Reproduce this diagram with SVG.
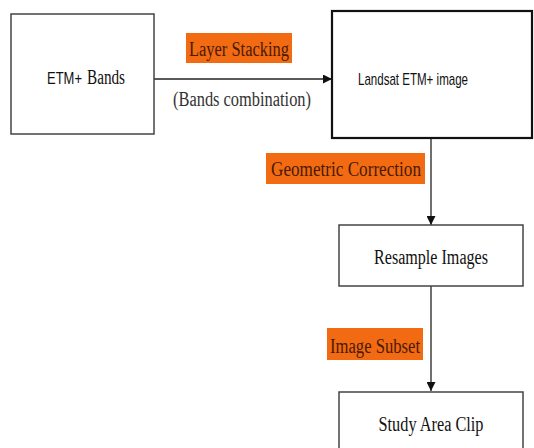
<svg xmlns="http://www.w3.org/2000/svg" width="534" height="448" viewBox="0 0 534 448">
<style>
.box{fill:#fff;stroke:#444;stroke-width:1.5}
.t{font-family:"Liberation Serif",serif;font-size:20px;fill:#111;text-anchor:middle}
.lbl{font-family:"Liberation Serif",serif;font-size:20px;fill:#4a1a05;text-anchor:middle}
.bg{fill:#f26a12}
.c{stroke:#222;stroke-width:1.3;fill:none}
.sans{font-family:"Liberation Sans",Arial,sans-serif;fill:#111}
</style>
<defs>
<marker id="ah" viewBox="0 0 10 10" refX="10" refY="5" markerWidth="10" markerHeight="9" markerUnits="userSpaceOnUse" orient="auto">
<path d="M0,0 L10,5 L0,10 z" fill="#111"/>
</marker>
</defs>
<rect width="534" height="448" fill="#fff"/>
<g id="connectors">
<line class="c" x1="154" y1="79" x2="332" y2="79" marker-end="url(#ah)"/>
<line class="c" x1="431" y1="138" x2="431" y2="225" marker-end="url(#ah)"/>
<line class="c" x1="431" y1="286" x2="431" y2="391" marker-end="url(#ah)"/>
</g>
<g id="node-etm-bands">
<rect class="box" x="11" y="14" width="143" height="120"/>
<text class="sans" x="47" y="84" font-size="16" textLength="35" lengthAdjust="spacingAndGlyphs">ETM+</text>
<text x="87" y="84" font-family="Liberation Serif, serif" font-size="20" fill="#111" textLength="38" lengthAdjust="spacingAndGlyphs">Bands</text>
</g>
<g id="node-landsat">
<rect x="332" y="11" width="200" height="127" fill="#fff" stroke="#111" stroke-width="2.2"/>
<text class="sans" x="358" y="85" font-size="17" textLength="110" lengthAdjust="spacingAndGlyphs">Landsat ETM+ image</text>
</g>
<g id="label-layer-stacking">
<rect class="bg" x="186" y="33" width="106" height="30"/>
<text class="lbl" x="239" y="56" textLength="100" lengthAdjust="spacingAndGlyphs">Layer Stacking</text>
</g>
<g id="label-bands-combination">
<text x="242" y="106" font-family="Liberation Serif, serif" font-size="20" fill="#333" text-anchor="middle" textLength="138" lengthAdjust="spacingAndGlyphs">(Bands combination)</text>
</g>
<g id="label-geometric">
<rect class="bg" x="266" y="153" width="159" height="31"/>
<text class="lbl" x="346" y="176" textLength="150" lengthAdjust="spacingAndGlyphs">Geometric Correction</text>
</g>
<g id="node-resample">
<rect class="box" x="339" y="225" width="184" height="61"/>
<text class="t" x="431" y="264" textLength="114" lengthAdjust="spacingAndGlyphs">Resample Images</text>
</g>
<g id="label-image-subset">
<rect class="bg" x="327" y="328" width="96" height="32"/>
<text class="lbl" x="375" y="353" textLength="90" lengthAdjust="spacingAndGlyphs">Image Subset</text>
</g>
<g id="node-study-area">
<rect class="box" x="339" y="392" width="184" height="60"/>
<text class="t" x="431" y="431" textLength="105" lengthAdjust="spacingAndGlyphs">Study Area Clip</text>
</g>
</svg>
